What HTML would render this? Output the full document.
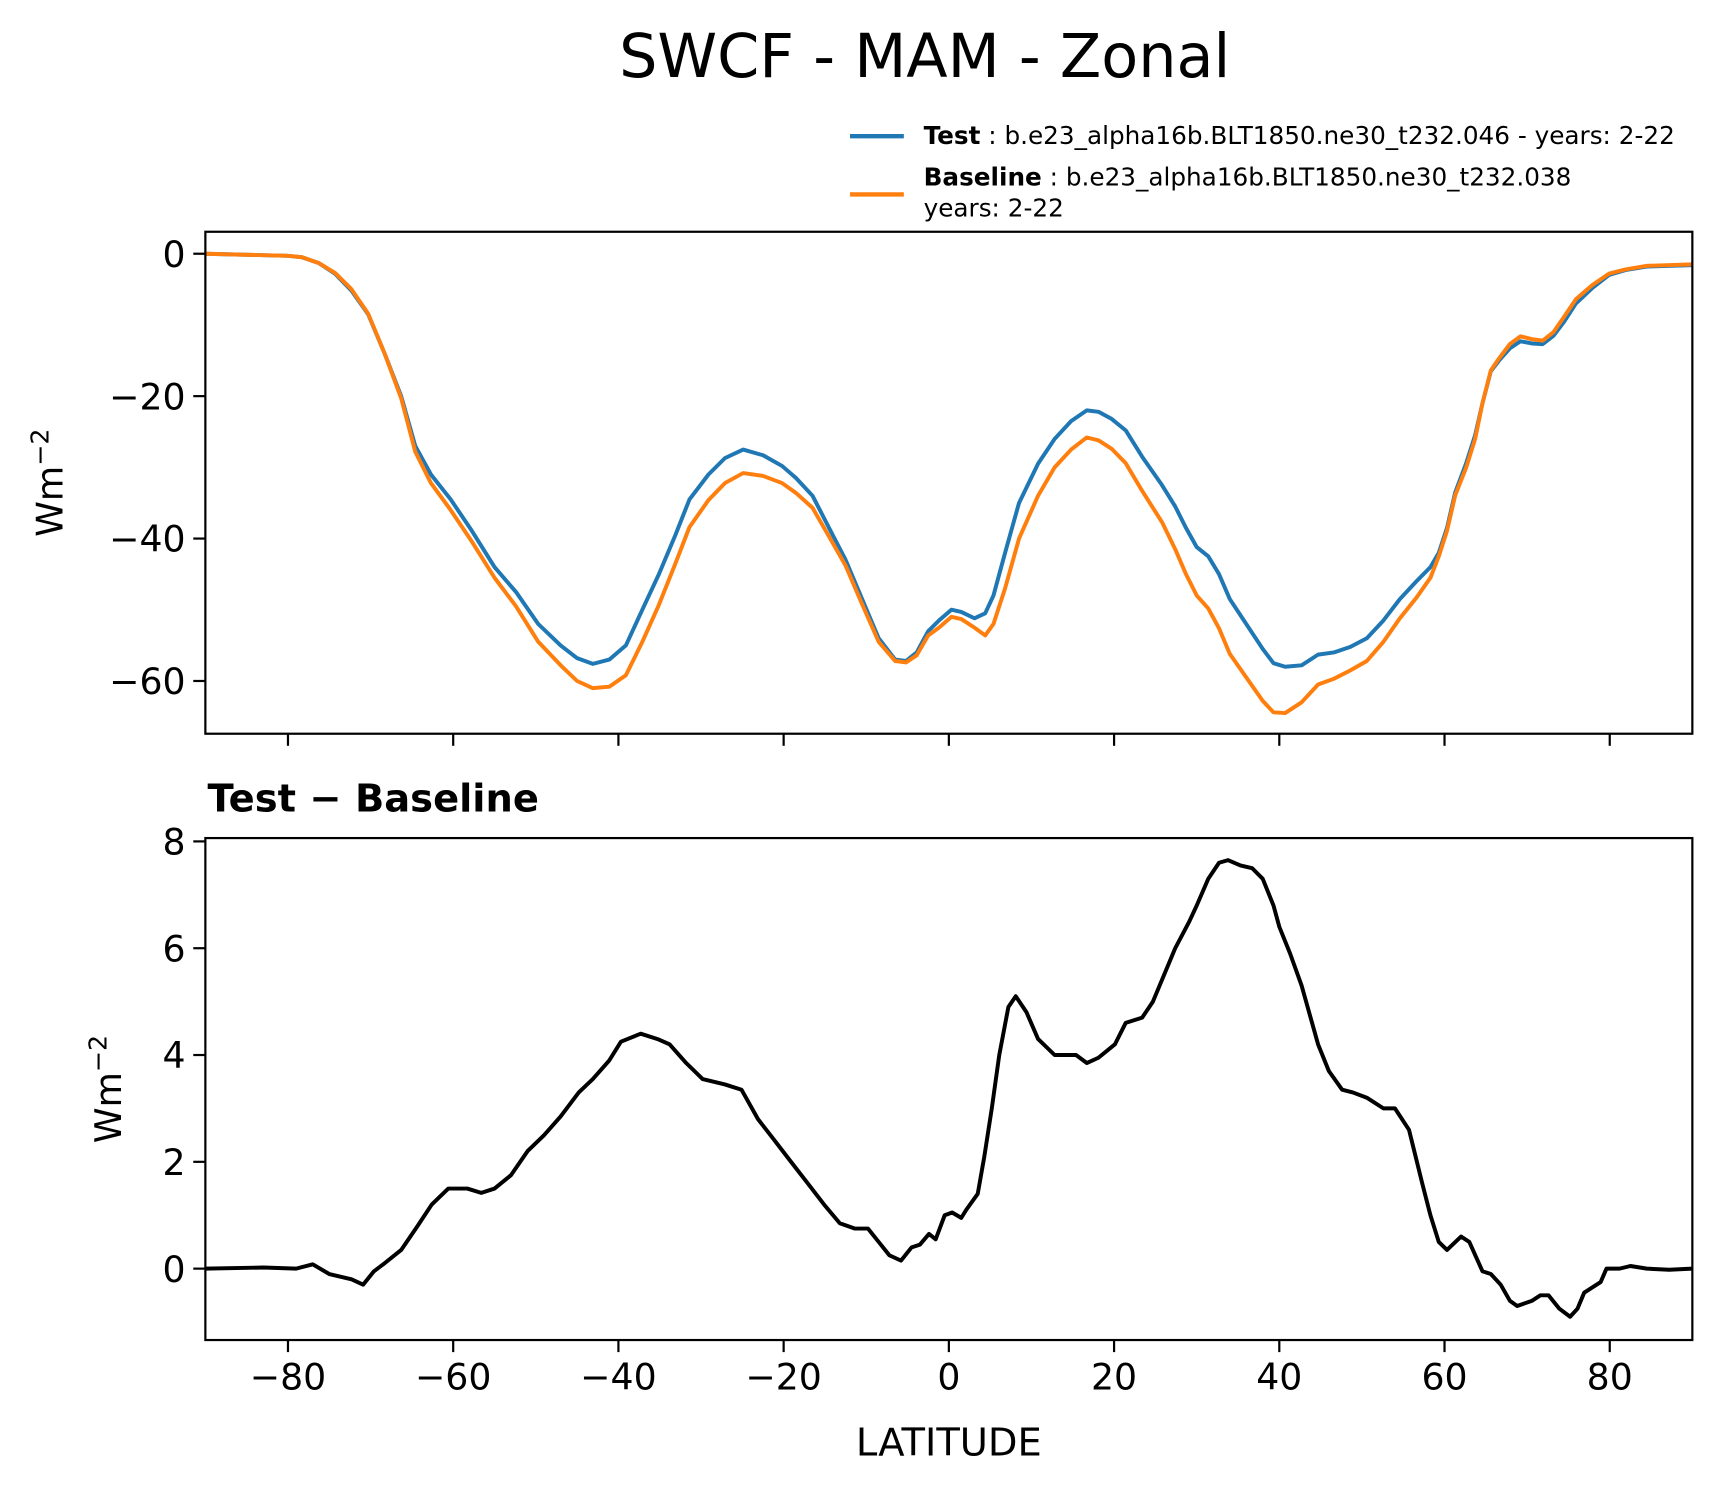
<!DOCTYPE html>
<html><head><meta charset="utf-8"><style>
html,body{margin:0;padding:0;background:#fff;}
svg{display:block;font-family:"DejaVu Sans","Liberation Sans",sans-serif;}
</style></head><body>
<svg id="fig" width="1722" height="1496" viewBox="0 0 1568 1362" preserveAspectRatio="none">
<rect width="1568" height="1362" fill="#fff"/>
<text x="842" y="70" font-size="55" text-anchor="middle">SWCF - MAM - Zonal</text>
<g>
<line x1="774" y1="124" x2="823" y2="124" stroke="#1f77b4" stroke-width="4"/>
<text x="841" y="131" font-size="22.5"><tspan font-weight="bold">Test</tspan> : b.e23_alpha16b.BLT1850.ne30_t232.046 - years: 2-22</text>
<line x1="774" y1="177" x2="823" y2="177" stroke="#ff7f0e" stroke-width="4"/>
<text x="841" y="169" font-size="22.5"><tspan font-weight="bold">Baseline</tspan> : b.e23_alpha16b.BLT1850.ne30_t232.038</text>
<text x="841" y="197" font-size="22.5">years: 2-22</text>
</g>
<g id="top"></g>
<g id="bot"></g>
<text x="189" y="739" font-size="35" font-weight="bold">Test − Baseline</text>
<text x="864" y="1325" font-size="35" text-anchor="middle">LATITUDE</text>
</svg>
<script>
const latsTop=[-90,-80,-78.3,-76.3,-74.3,-72.3,-70.3,-68.3,-66.3,-64.6,-62.7,-60.3,-57.7,-55,-52.4,-49.7,-47,-45,-43.1,-41.1,-39.1,-37.1,-35.1,-33.1,-31.4,-29.1,-27.1,-24.9,-22.5,-20.2,-18.5,-16.5,-14.5,-12.5,-10.5,-8.5,-6.5,-5.2,-3.9,-2.5,-1.2,0.3,1.5,3.1,4.4,5.4,6.8,8.5,10.8,12.8,14.8,16.7,18.1,19.7,21.4,23.4,25.8,27.4,28.7,30,31.4,32.7,34,36,38,39.3,40.7,42.7,44.7,46.6,48.6,50.6,52.6,54.6,56.6,58.3,59.3,60.3,61.3,62.6,63.7,64.6,65.6,66.6,67.9,69.2,70.6,71.9,73.2,74.5,75.9,77.9,79.9,81.9,84.5,90];
const testVals=[0,-0.3,-0.5,-1.3,-2.8,-5.2,-8.5,-14,-20,-27,-31,-34.5,-39,-44,-47.5,-52,-55,-56.8,-57.6,-57,-55,-50,-45,-39.5,-34.5,-31,-28.7,-27.5,-28.3,-29.8,-31.5,-34,-38.5,-43,-48.5,-54,-57,-57.2,-56,-53,-51.5,-50,-50.3,-51.2,-50.5,-48,-42,-35,-29.5,-26,-23.5,-22,-22.2,-23.2,-24.8,-28.5,-32.5,-35.5,-38.5,-41.2,-42.5,-45,-48.5,-52,-55.5,-57.5,-58,-57.8,-56.3,-56,-55.2,-54,-51.5,-48.5,-46,-44,-42,-38.5,-33.5,-29.5,-25.5,-21,-16.5,-15,-13.3,-12.3,-12.6,-12.7,-11.5,-9.5,-7,-4.8,-3,-2.3,-1.8,-1.6];
const baseVals=[0,-0.3,-0.5,-1.3,-2.7,-5,-8.4,-14,-20.3,-27.8,-32.2,-36,-40.5,-45.5,-49.5,-54.5,-57.8,-60,-61,-60.8,-59.2,-54.5,-49.3,-43.5,-38.4,-34.6,-32.2,-30.8,-31.2,-32.2,-33.6,-35.7,-39.7,-43.8,-49.2,-54.5,-57.2,-57.4,-56.4,-53.6,-52.5,-51,-51.3,-52.5,-53.6,-52,-47,-40,-34,-30,-27.5,-25.8,-26.2,-27.4,-29.4,-33.3,-37.7,-41.5,-45,-48,-49.8,-52.6,-56.2,-59.5,-62.8,-64.4,-64.5,-63,-60.5,-59.7,-58.5,-57.2,-54.5,-51.2,-48.3,-45.5,-42.5,-38.9,-33.9,-30.1,-26,-21,-16.4,-14.7,-12.7,-11.6,-12,-12.2,-11,-8.8,-6.4,-4.4,-2.8,-2.2,-1.7,-1.5];
const latsDiff=[-90,-83,-79,-77,-75,-72.3,-70.9,-69.6,-68.3,-66.3,-64.3,-62.6,-60.6,-58.3,-56.6,-55,-53,-51,-49,-47,-44.8,-43.1,-41.1,-39.7,-37.3,-35.3,-33.8,-31.8,-29.8,-27.1,-25.1,-23.1,-21.1,-19.1,-17.1,-15.1,-13.2,-11.4,-9.8,-8.5,-7.2,-5.8,-4.5,-3.5,-2.4,-1.6,-0.5,0.4,1.5,2.1,3.5,4.3,5.2,6.1,7.2,8.1,9.4,10.8,12.8,15.4,16.7,18.1,20.1,21.4,23.4,24.7,27.4,29.1,30,31.4,32.7,33.8,35.3,36.7,38,39.3,40,41.3,42.7,44.7,46,47.6,48.9,50.6,52.6,54,55.7,57.3,58.3,59.3,60.3,62,63,64.6,65.6,66.8,67.9,68.8,70.6,71.6,72.6,73.9,75.2,76.1,76.9,78.9,79.6,81.2,82.5,84.5,87.2,90];
const diffVals=[0,0.02,0,0.08,-0.1,-0.2,-0.3,-0.05,0.1,0.35,0.8,1.2,1.5,1.5,1.42,1.5,1.75,2.2,2.5,2.85,3.3,3.55,3.9,4.25,4.4,4.3,4.2,3.85,3.55,3.45,3.35,2.8,2.4,2.0,1.6,1.2,0.85,0.75,0.75,0.5,0.25,0.15,0.4,0.45,0.65,0.55,1.0,1.05,0.95,1.1,1.4,2.1,3.0,4.0,4.9,5.1,4.8,4.3,4.0,4.0,3.85,3.95,4.2,4.6,4.7,5.0,6.0,6.5,6.8,7.3,7.6,7.65,7.55,7.5,7.3,6.8,6.4,5.9,5.3,4.2,3.7,3.35,3.3,3.2,3.0,3.0,2.6,1.6,1.0,0.5,0.35,0.6,0.5,-0.05,-0.1,-0.3,-0.6,-0.7,-0.6,-0.5,-0.5,-0.75,-0.9,-0.75,-0.45,-0.25,0.0,0.0,0.05,0.0,-0.02,0];
const xTicks=[-80,-60,-40,-20,0,20,40,60,80];
const yTicksTop=[0,-20,-40,-60];
const yTicksBot=[0,2,4,6,8];

const NS="http://www.w3.org/2000/svg";
const X0=187,X1=1541;
function xs(v){return X0+(v+90)/180*(X1-X0);}
function yTop(v){return 231-v*6.483;}
function yBot(v){return 1155-v*48.62;}
function mk(tag,attrs,parent){const e=document.createElementNS(NS,tag);for(const k in attrs)e.setAttribute(k,attrs[k]);parent.appendChild(e);return e;}
function fmt(v){return v<0?"\u2212"+Math.abs(v):String(v);}

function panel(g,top,bot,ys,yticks,showXLabels,ylabelX){
  const fr=mk('rect',{x:X0,y:top,width:X1-X0,height:bot-top,fill:'none',stroke:'#000','stroke-width':2},g);
  
  
  xTicks.forEach(t=>{
    const l=mk('line',{x1:xs(t),x2:xs(t),y1:bot,y2:bot+11,stroke:'#000','stroke-width':2},g);
    
    
    if(showXLabels){
      const tx=mk('text',{x:xs(t),y:bot+45,'font-size':33,'text-anchor':'middle'},g);
      tx.textContent=fmt(t);
      
      
    }
  });
  yticks.forEach(t=>{
    const l=mk('line',{x1:X0-11,x2:X0,y1:ys(t),y2:ys(t),stroke:'#000','stroke-width':2},g);
    
    
    const tx=mk('text',{x:X0-18,y:ys(t)+12,'font-size':33,'text-anchor':'end'},g);
    tx.textContent=fmt(t);
    
    
  });
  const cy=(top+bot)/2;
  const yl=mk('text',{x:ylabelX,y:cy,'font-size':33,'text-anchor':'middle',transform:`rotate(-90 ${ylabelX} ${cy})`},g);
  yl.innerHTML='Wm<tspan dy="-13" font-size="23">\u22122</tspan>';
  
  
}
function series(g,lats,vals,ys,color,name){
  const d=lats.map((la,i)=>(i?'L':'M')+xs(la).toFixed(1)+' '+ys(vals[i]).toFixed(1)).join(' ');
  const p=mk('path',{d:d,fill:'none',stroke:color,'stroke-width':3.6,'stroke-linejoin':'round'},g);
  
  
}
const gt=document.getElementById('top'),gb=document.getElementById('bot');
series(gt,latsTop,testVals,yTop,'#1f77b4','test-line');
series(gt,latsTop,baseVals,yTop,'#ff7f0e','baseline-line');
panel(gt,211,668,yTop,yTicksTop,false,57);
series(gb,latsDiff,diffVals,yBot,'#000','difference-line');
panel(gb,763,1220,yBot,yTicksBot,true,110);
</script>
</body></html>
